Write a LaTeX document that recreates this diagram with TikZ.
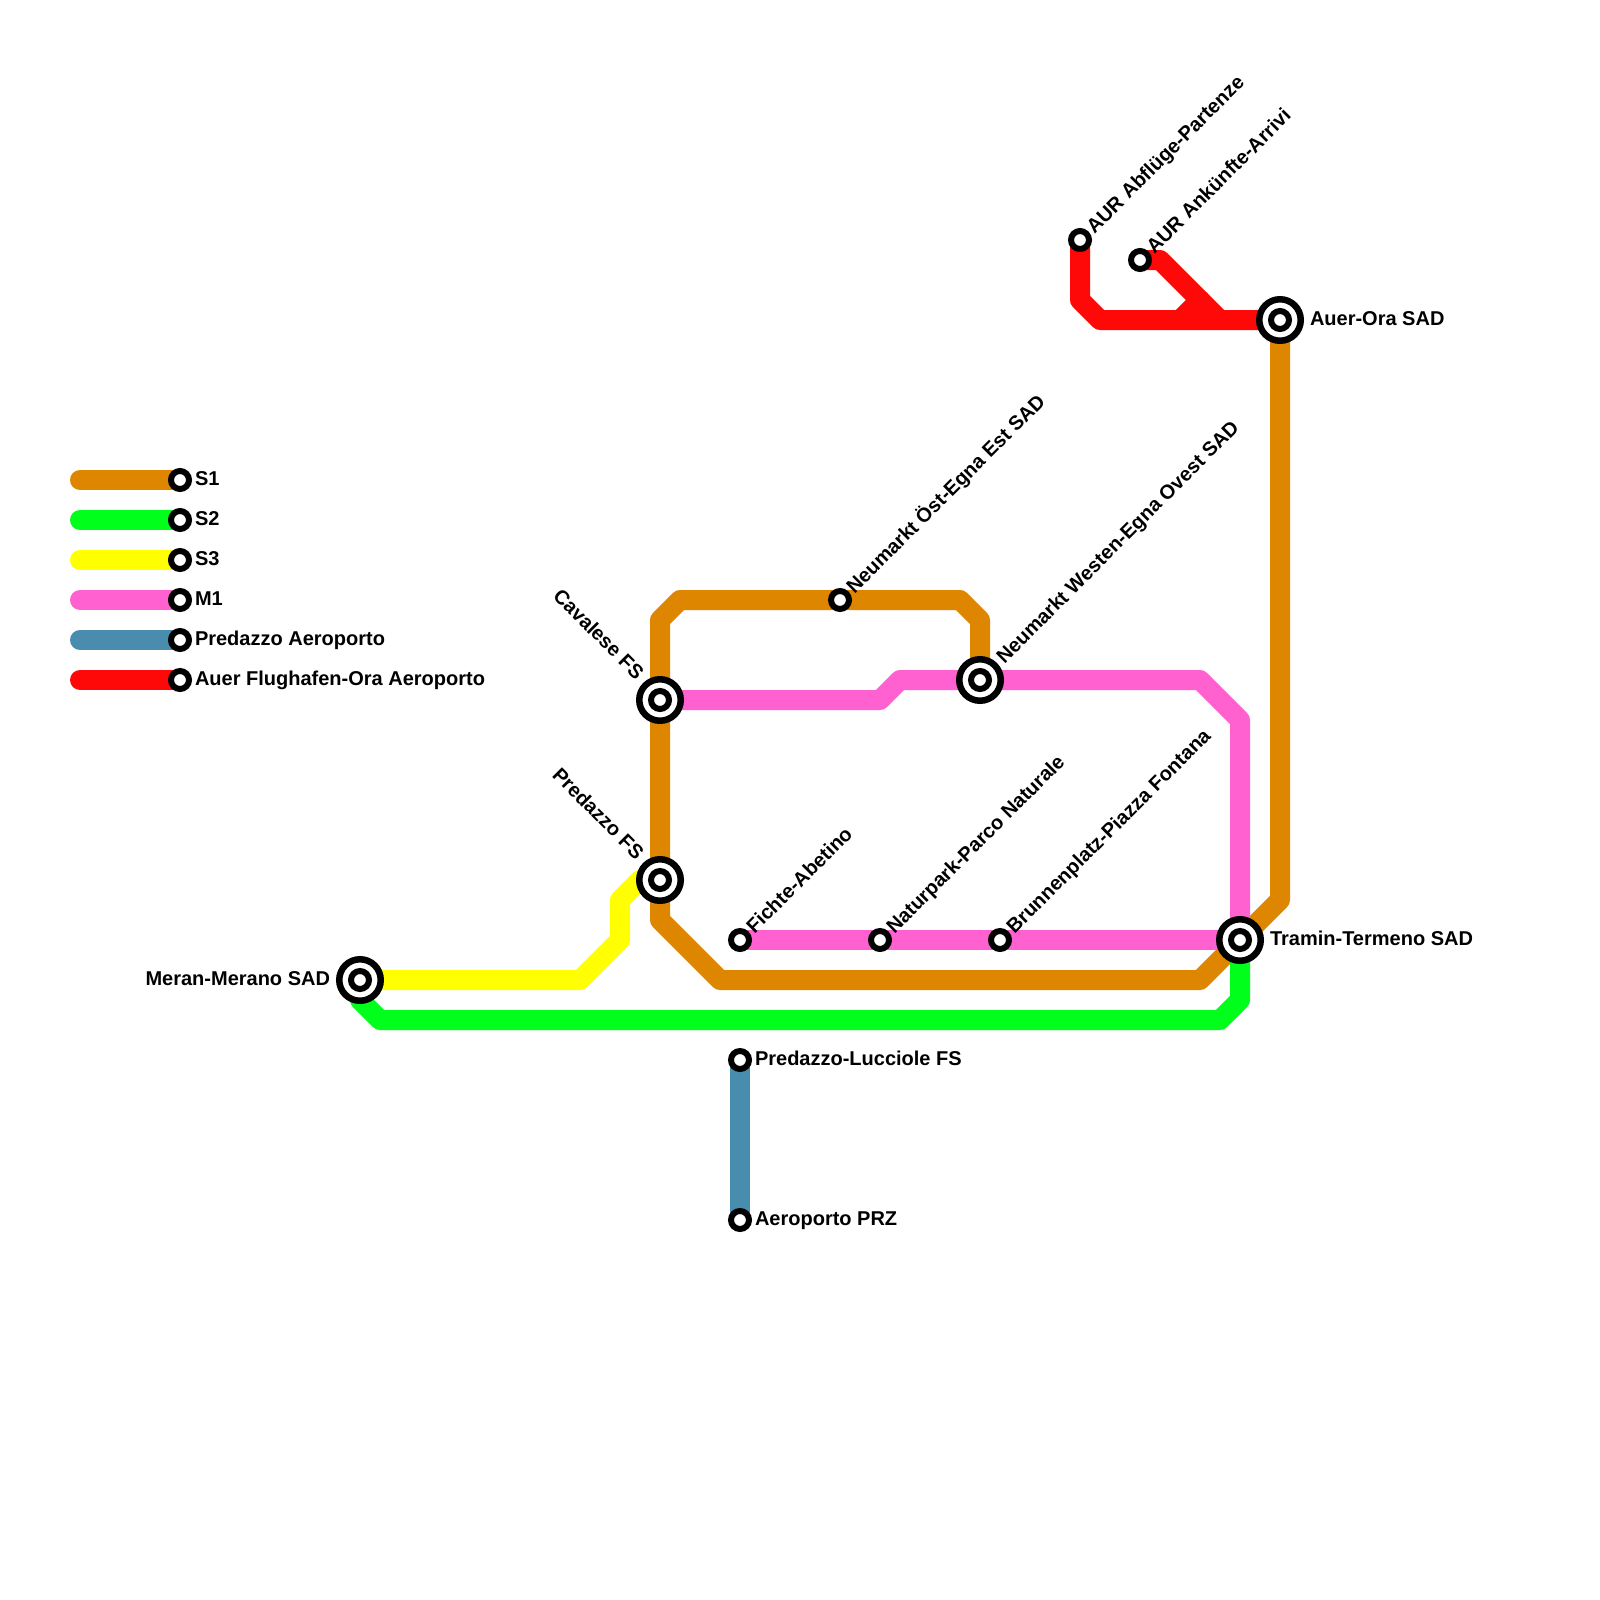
\documentclass[tikz,border=0pt]{standalone}
\usepackage{fontspec}
\setmainfont{Liberation Sans}[BoldFont={Liberation Sans Bold}]
\definecolor{cbrown}{HTML}{DF8600}
\definecolor{cgreen}{HTML}{00FF1A}
\definecolor{cyellow}{HTML}{FFFF00}
\definecolor{cpink}{HTML}{FF62D0}
\definecolor{cblue}{HTML}{488CAE}
\definecolor{cred}{HTML}{FF0808}
\tikzset{
  rail/.style={line width=20pt,line cap=round,line join=round},
  stn/.style={circle,draw=black,fill=white,line width=6pt,minimum size=18pt,inner sep=0pt,outer sep=0pt},
  hubouter/.style={circle,draw=black,fill=white,line width=6.5pt,minimum size=41.5pt,inner sep=0pt,outer sep=0pt},
  hubinner/.style={circle,draw=black,fill=white,line width=6pt,minimum size=18pt,inner sep=0pt,outer sep=0pt},
  lbl/.style={inner sep=0pt,outer sep=0pt,text height=14pt,text depth=4pt,font=\bfseries\fontsize{20}{20}\selectfont,text=black},
  lblE/.style={lbl,anchor=west},
  lblW/.style={lbl,anchor=east},
  lblUp/.style={lbl,anchor=west,rotate=45},
  lblDn/.style={lbl,anchor=east,rotate=-45},
}
\begin{document}
\begin{tikzpicture}[x=1pt,y=-1pt]
\useasboundingbox (0,0) rectangle (1600,1600);
% station positions
\coordinate (mer) at (360,980);
\coordinate (prf) at (660,880);
\coordinate (cav) at (660,700);
\coordinate (neo) at (840,600);
\coordinate (new) at (980,680);
\coordinate (tra) at (1240,940);
\coordinate (aue) at (1280,320);
\coordinate (abf) at (1080,240);
\coordinate (ank) at (1140,260);
\coordinate (fic) at (740,940);
\coordinate (nat) at (880,940);
\coordinate (bru) at (1000,940);
\coordinate (luc) at (740,1060);
\coordinate (prz) at (740,1220);
\coordinate (redj) at (1180,320);
\coordinate (lg1) at (180,480);
\coordinate (lg2) at (180,520);
\coordinate (lg3) at (180,560);
\coordinate (lg4) at (180,600);
\coordinate (lg5) at (180,640);
\coordinate (lg6) at (180,680);
\coordinate (lg1s) at (80,480);
\coordinate (lg2s) at (80,520);
\coordinate (lg3s) at (80,560);
\coordinate (lg4s) at (80,600);
\coordinate (lg5s) at (80,640);
\coordinate (lg6s) at (80,680);
% legend bars
\draw[rail,cbrown] (lg1s) -- (lg1);
\draw[rail,cgreen] (lg2s) -- (lg2);
\draw[rail,cyellow] (lg3s) -- (lg3);
\draw[rail,cpink] (lg4s) -- (lg4);
\draw[rail,cblue] (lg5s) -- (lg5);
\draw[rail,cred] (lg6s) -- (lg6);
% lines
\draw[rail,cbrown] (aue) -- (1280,900) -- (tra) -- (1200,980) -- (720,980) -- (660,920) -- (prf) -- (cav) -- (660,620) -- (680,600) -- (neo) -- (960,600) -- (980,620) -- (new);
\draw[rail,cgreen] (mer) -- (360,1000) -- (380,1020) -- (1220,1020) -- (1240,1000) -- (tra);
\draw[rail,cyellow] (mer) -- (580,980) -- (620,940) -- (620,900) -- (640,880) -- (prf);
\draw[rail,cpink] (cav) -- (880,700) -- (900,680) -- (new) -- (1200,680) -- (1240,720) -- (tra);
\draw[rail,cpink] (tra) -- (bru) -- (nat) -- (fic);
\draw[rail,cblue] (luc) -- (prz);
\draw[rail,cred] (abf) -- (1080,300) -- (1100,320) -- (redj) -- (aue);
\draw[rail,cred] (ank) -- (1160,260) -- (1220,320);
\draw[rail,cred] (redj) -- (1200,300);
% stations
\foreach \n in {neo,abf,ank,fic,nat,bru,luc,prz,lg1,lg2,lg3,lg4,lg5,lg6}{\node[stn] (s\n) at (\n) {};}
\foreach \n in {mer,prf,cav,new,tra,aue}{\node[hubouter] (h\n) at (\n) {}; \node[hubinner] (i\n) at (\n) {};}
% labels
\node[lblE] (t1) at (195,480) {S1};
\node[lblE] (t2) at (195,520) {S2};
\node[lblE] (t3) at (195,560) {S3};
\node[lblE] (t4) at (195,600) {M1};
\node[lblE] (t5) at (195,640) {Predazzo Aeroporto};
\node[lblE] (t6) at (195,680) {Auer Flughafen-Ora Aeroporto};
\node[lblW] (tmer) at (330,980) {Meran-Merano SAD};
\node[lblE] (taue) at (1310,320) {Auer-Ora SAD};
\node[lblE] (ttra) at (1270,940) {Tramin-Termeno SAD};
\node[lblE] (tluc) at (755,1060) {Predazzo-Lucciole FS};
\node[lblE] (tprz) at (755,1220) {Aeroporto PRZ};
\node[lblDn] (tcav) at (639,677) {Cavalese FS};
\node[lblDn] (tprf) at (639,857) {Predazzo FS};
\node[lblUp] (tneo) at (851,591) {Neumarkt Öst-Egna Est SAD};
\node[lblUp] (tnew) at (1001,661) {Neumarkt Westen-Egna Ovest SAD};
\node[lblUp] (tabf) at (1091,231) {AUR Abflüge-Partenze};
\node[lblUp] (tank) at (1151,251) {AUR Ankünfte-Arrivi};
\node[lblUp] (tfic) at (751,931) {Fichte-Abetino};
\node[lblUp] (tnat) at (891,931) {Naturpark-Parco Naturale};
\node[lblUp] (tbru) at (1011,931) {Brunnenplatz-Piazza Fontana};
\end{tikzpicture}
\end{document}
